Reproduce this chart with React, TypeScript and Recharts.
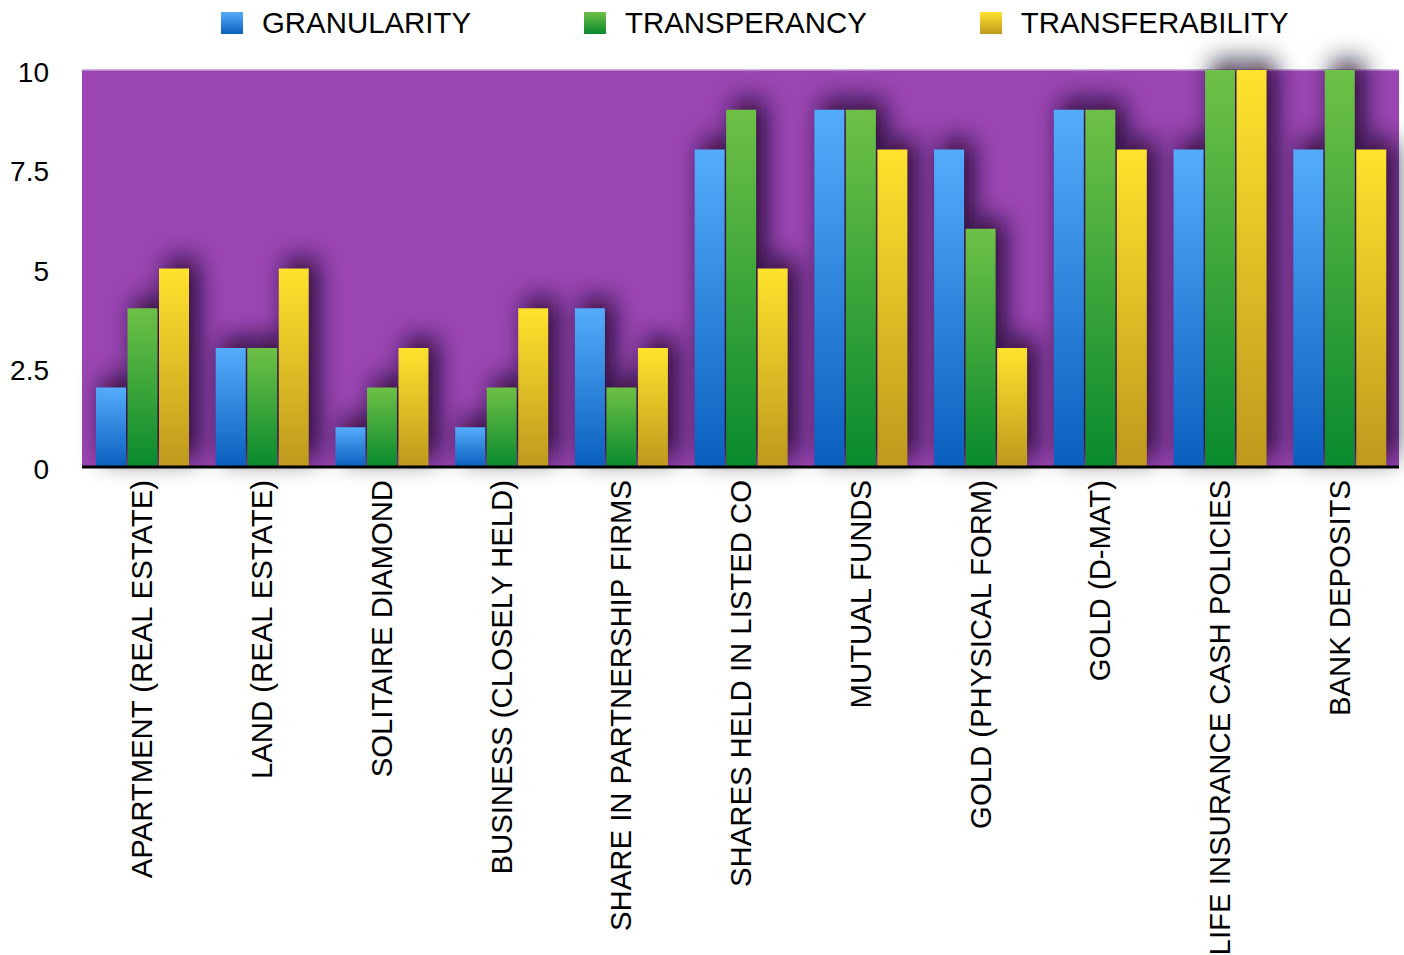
import React from 'react';
import { BarChart, Bar, XAxis, YAxis, CartesianGrid, Legend } from 'recharts';

const categories = [
  'APARTMENT (REAL ESTATE)',
  'LAND (REAL ESTATE)',
  'SOLITAIRE DIAMOND',
  'BUSINESS (CLOSELY HELD)',
  'SHARE IN PARTNERSHIP FIRMS',
  'SHARES HELD IN LISTED CO',
  'MUTUAL FUNDS',
  'GOLD (PHYSICAL FORM)',
  'GOLD (D-MAT)',
  'LIFE INSURANCE CASH POLICIES',
  'BANK DEPOSITS',
];
const granularity = [2, 3, 1, 1, 4, 8, 9, 8, 9, 8, 8];
const transperancy = [4, 3, 2, 2, 2, 9, 9, 6, 9, 10, 10];
const transferability = [5, 5, 3, 4, 3, 5, 8, 3, 8, 10, 8];
const yTicks = [0, 2.5, 5, 7.5, 10];
const seriesNames = ['GRANULARITY', 'TRANSPERANCY', 'TRANSFERABILITY'];

const data = categories.map((name, i) => ({
  name,
  g: granularity[i],
  t: transperancy[i],
  tr: transferability[i],
}));

const W = 1404;
const H = 955;
const FONT = '"Liberation Sans", Arial, Helvetica, sans-serif';
const LEGEND_H = 46;
const margin = { top: 70 - LEGEND_H, right: 5, bottom: 8, left: 0 };
const CAT_GAP = '11.7%';
const BAR_GAP = 1.5;

const gradients = [
  { id: 'gBlue', top: '#55ACFB', bottom: '#0A5FBE' },
  { id: 'gGreen', top: '#6EC046', bottom: '#098A2E' },
  { id: 'gYellow', top: '#FDE32D', bottom: '#BE991E' },
];

const LegendContent = ({ hidden }: { hidden?: boolean }) => (
  <div
    style={{
      height: LEGEND_H,
      width: W,
      display: 'flex',
      alignItems: 'center',
      paddingLeft: 221,
      boxSizing: 'border-box',
      gap: 113,
      fontFamily: FONT,
      fontSize: 29.4,
      color: '#000',
      visibility: hidden ? 'hidden' : 'visible',
    }}
  >
    {seriesNames.map((n, i) => (
      <div key={n} style={{ display: 'flex', alignItems: 'center' }}>
        <div
          style={{
            width: 22,
            height: 22,
            marginRight: 19,
            background: `linear-gradient(${gradients[i].top}, ${gradients[i].bottom})`,
          }}
        />
        <span style={{ lineHeight: '30px' }}>{n}</span>
      </div>
    ))}
  </div>
);

const XTick = (props: any) => {
  const { x, y, payload } = props;
  return (
    <text
      transform={`translate(${x},${y + 13}) rotate(-90)`}
      textAnchor="end"
      dy="0.36em"
      fontSize={29.3}
      fontFamily={FONT}
      fill="#000"
    >
      {payload.value}
    </text>
  );
};

const YTick = (props: any) => {
  const { x, y, payload } = props;
  return (
    <text
      x={x - 33}
      y={y + 2}
      textAnchor="end"
      dy="0.36em"
      fontSize={28}
      fontFamily={FONT}
      fill="#000"
    >
      {String(payload.value)}
    </text>
  );
};

const ShadowShape = (props: any) => {
  const { x, y, width, height } = props;
  if (!height || height <= 0) return null;
  return (
    <rect
      x={x}
      y={y}
      width={width}
      height={height}
      transform="translate(8,-9)"
      fill="#12001c"
      fillOpacity={0.92}
      filter="url(#barBlur)"
    />
  );
};

const keys = ['g', 't', 'tr'];

export default function App() {
  return (
    <div style={{ position: 'absolute', left: 0, top: 0, width: W, height: H, background: '#fff' }}>
      {/* background layer: plot fill, grid, shadows */}
      <div style={{ position: 'absolute', left: 0, top: 0 }}>
        <BarChart width={W} height={H} data={data} margin={margin} barCategoryGap={CAT_GAP} barGap={BAR_GAP}>
          <defs>
            <filter id="barBlur" x="-200%" y="-100%" width="500%" height="300%">
              <feGaussianBlur stdDeviation="13" />
            </filter>
          </defs>
          <Legend
            verticalAlign="top"
            align="left"
            wrapperStyle={{ top: 0, left: 0 }}
            content={() => <LegendContent hidden />}
          />
          <CartesianGrid
            vertical={false}
            fill="#9B45B4"
            fillOpacity={1}
            stroke="#C29AD3"
            strokeWidth={1.5}
          />
          <XAxis dataKey="name" height={480} tick={false} axisLine={false} tickLine={false} tickSize={0} />
          <YAxis
            width={82}
            domain={[0, 10]}
            ticks={yTicks}
            tick={false}
            axisLine={false}
            tickLine={false}
            tickSize={0}
          />
          {keys.map((k) => (
            <Bar key={k} dataKey={k} shape={ShadowShape} isAnimationActive={false} />
          ))}
        </BarChart>
      </div>
      {/* foreground layer: bars, axes, legend */}
      <div style={{ position: 'absolute', left: 0, top: 0 }}>
        <BarChart width={W} height={H} data={data} margin={margin} barCategoryGap={CAT_GAP} barGap={BAR_GAP}>
          <defs>
            {gradients.map((g) => (
              <linearGradient key={g.id} id={g.id} x1="0" y1="0" x2="0" y2="1">
                <stop offset="0%" stopColor={g.top} />
                <stop offset="100%" stopColor={g.bottom} />
              </linearGradient>
            ))}
          </defs>
          <Legend
            verticalAlign="top"
            align="left"
            wrapperStyle={{ top: 0, left: 0 }}
            content={() => <LegendContent />}
          />
          <XAxis
            dataKey="name"
            height={480}
            interval={0}
            tick={<XTick />}
            axisLine={{ stroke: '#000', strokeWidth: 3 }}
            tickLine={false}
            tickSize={0}
            tickMargin={0}
          />
          <YAxis
            width={82}
            domain={[0, 10]}
            ticks={yTicks}
            interval={0}
            tick={<YTick />}
            axisLine={false}
            tickLine={false}
            tickSize={0}
            tickMargin={0}
          />
          <Bar dataKey="g" name={seriesNames[0]} fill="url(#gBlue)" isAnimationActive={false} />
          <Bar dataKey="t" name={seriesNames[1]} fill="url(#gGreen)" isAnimationActive={false} />
          <Bar dataKey="tr" name={seriesNames[2]} fill="url(#gYellow)" isAnimationActive={false} />
        </BarChart>
      </div>
    </div>
  );
}
